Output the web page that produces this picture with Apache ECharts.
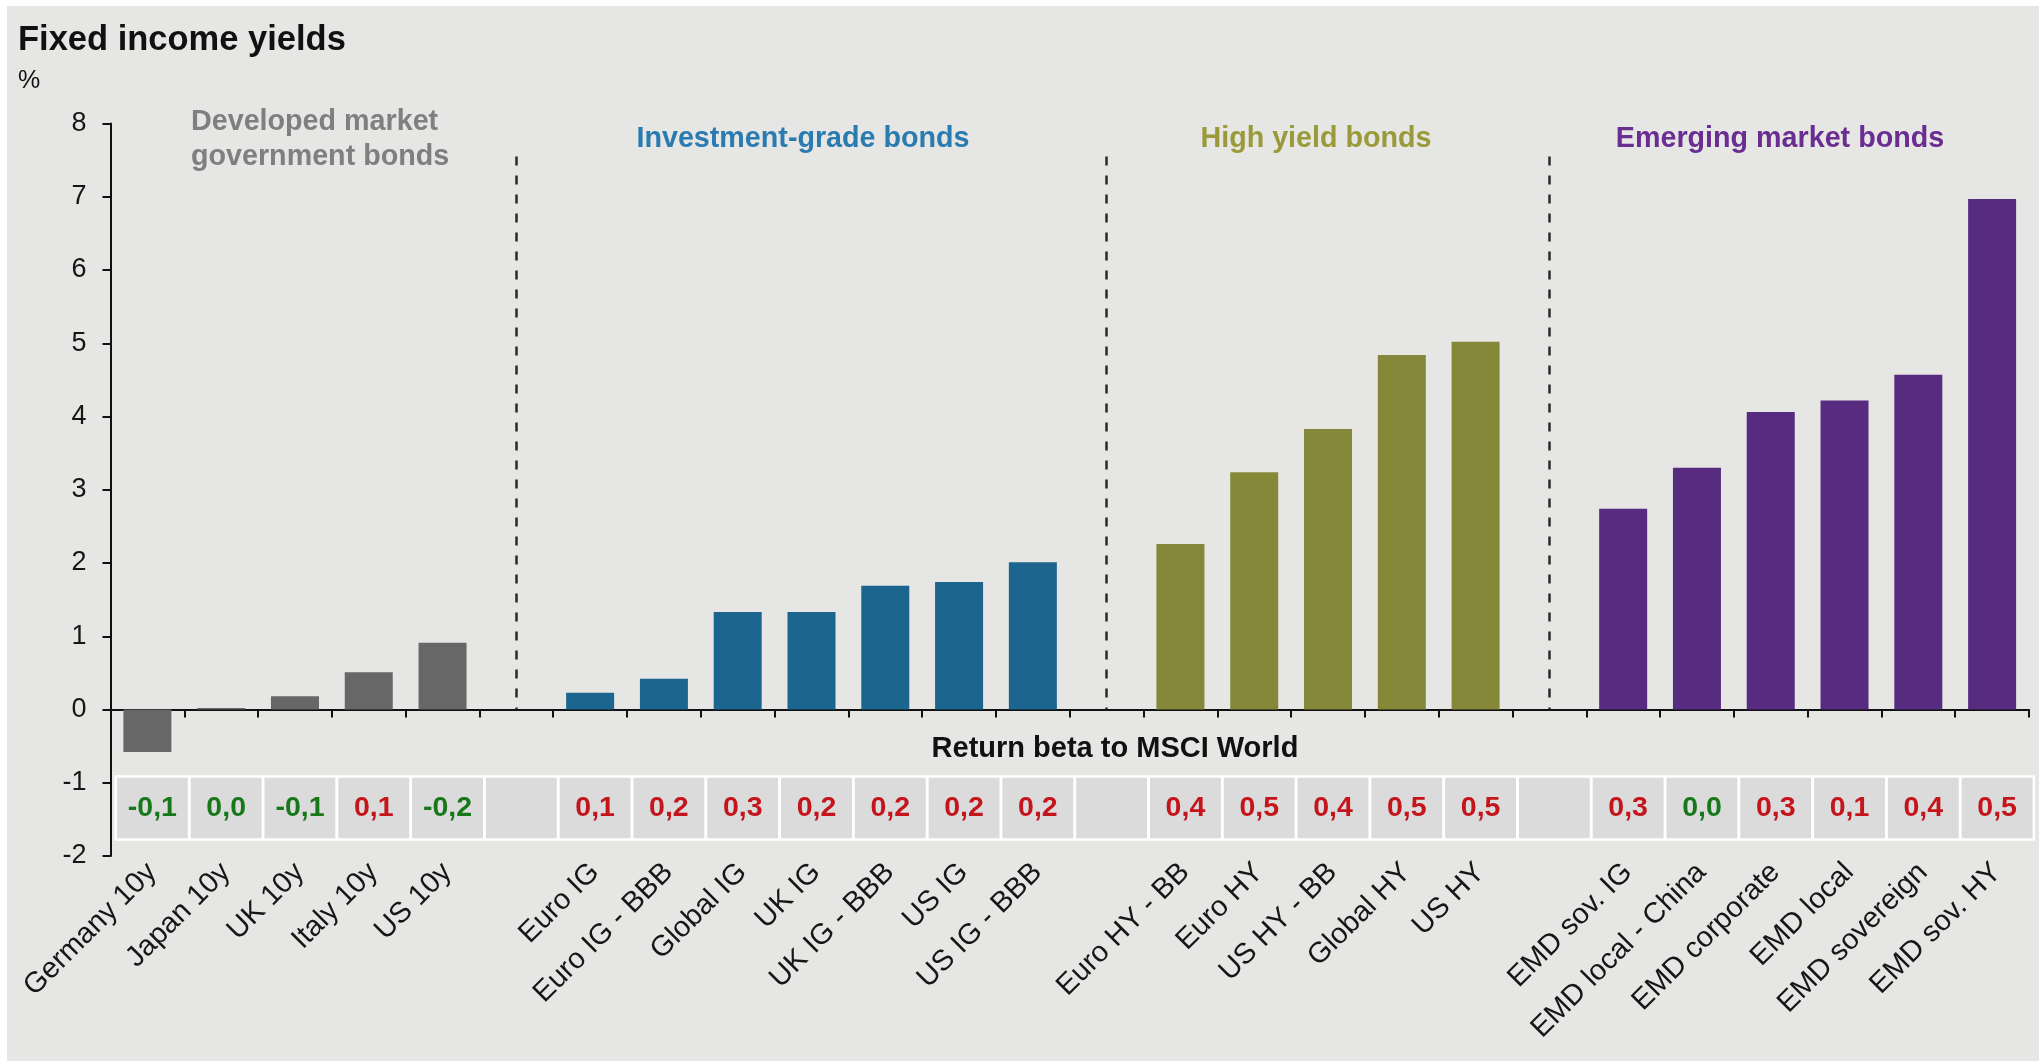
<!DOCTYPE html>
<html>
<head>
<meta charset="utf-8">
<script src="https://cdn.jsdelivr.net/npm/echarts@6/dist/echarts.min.js"></script>
<style>
  html, body { margin: 0; padding: 0; background: #ffffff; }
  #chart { width: 2039px; height: 1061px; }
</style>
</head>
<body>
<div id="chart"></div>
<script>
// Yields (%) and return beta to MSCI World, by bond segment
const dmNames  = ['Germany 10y', 'Japan 10y', 'UK 10y', 'Italy 10y', 'US 10y'];
const dmYields = [-0.58, 0.02, 0.18, 0.51, 0.91];
const dmBetas  = [-0.1, 0.0, -0.1, 0.1, -0.2];

const igNames  = ['Euro IG', 'Euro IG - BBB', 'Global IG', 'UK IG', 'UK IG - BBB', 'US IG', 'US IG - BBB'];
const igYields = [0.23, 0.42, 1.33, 1.33, 1.69, 1.74, 2.01];
const igBetas  = [0.1, 0.2, 0.3, 0.2, 0.2, 0.2, 0.2];

const hyNames  = ['Euro HY - BB', 'Euro HY', 'US HY - BB', 'Global HY', 'US HY'];
const hyYields = [2.26, 3.24, 3.83, 4.84, 5.02];
const hyBetas  = [0.4, 0.5, 0.4, 0.5, 0.5];

const emNames  = ['EMD sov. IG', 'EMD local - China', 'EMD corporate', 'EMD local', 'EMD sovereign', 'EMD sov. HY'];
const emYields = [2.74, 3.30, 4.06, 4.22, 4.57, 6.97];
const emBetas  = [0.3, 0.0, 0.3, 0.1, 0.4, 0.5];

const yMin = -2, yMax = 8, yStep = 1;

const FONT = '"Liberation Sans", Arial, sans-serif';

const segments = [
  { names: dmNames, yields: dmYields, betas: dmBetas, bar: '#676767' },
  { names: igNames, yields: igYields, betas: igBetas, bar: '#1b658e' },
  { names: hyNames, yields: hyYields, betas: hyBetas, bar: '#858838' },
  { names: emNames, yields: emYields, betas: emBetas, bar: '#572b7f' }
];

// Flatten the segments onto one category axis, with an empty slot between segments
const categories = [];
const barData = [];
const cellData = [];
const gapSlots = [];
segments.forEach((seg, s) => {
  if (s > 0) {
    gapSlots.push(categories.length);
    cellData.push([categories.length, 0, 0]);
    categories.push('');
    barData.push('-');
  }
  seg.names.forEach((n, k) => {
    cellData.push([categories.length, seg.betas[k], 1]);
    categories.push(n);
    barData.push({ value: seg.yields[k], itemStyle: { color: seg.bar } });
  });
});

// Beta strip sits between these two y values
const cellTop = -0.915, cellBottom = -1.775;
const fmtBeta = v => v.toFixed(1).replace('-0.0', '0.0').replace('.', ',');

const chart = echarts.init(document.getElementById('chart'), null, { renderer: 'canvas' });

chart.setOption({
  animation: false,
  backgroundColor: '#e6e6e4',
  textStyle: { fontFamily: FONT },
  grid: { left: 110.5, right: 10, top: 123.5, bottom: 205, containLabel: false, outerBoundsMode: 'none' },
  xAxis: {
    type: 'category',
    data: categories,
    axisLine: { onZero: true, lineStyle: { color: '#111111', width: 2 } },
    axisTick: { show: true, interval: 0, length: 8, lineStyle: { color: '#111111', width: 2 } },
    axisLabel: {
      interval: 0, rotate: 45, margin: -4, verticalAlign: 'top', padding: [0, 8, 0, 0],
      fontSize: 29, color: '#161616', fontFamily: FONT
    },
    splitLine: { show: false }
  },
  yAxis: {
    type: 'value',
    min: yMin, max: yMax, interval: yStep,
    axisLine: { show: true, lineStyle: { color: '#111111', width: 2 } },
    axisTick: { show: true, length: 8, lineStyle: { color: '#111111', width: 2 } },
    axisLabel: { fontSize: 27, color: '#161616', margin: 24, fontFamily: FONT },
    splitLine: { show: false }
  },
  series: [
    {
      type: 'bar',
      data: barData,
      barWidth: 48,
      z: 3,
      markLine: {
        silent: true,
        symbol: 'none',
        label: { show: false },
        lineStyle: { type: [9, 10], color: '#2a2a2a', width: 2.5 },
        data: gapSlots.map(i => [{ coord: [i, 7.55] }, { coord: [i, 0] }])
      }
    },
    {
      type: 'custom',
      data: cellData,
      z: 4,
      renderItem: function (params, api) {
        const i = api.value(0);
        const w = api.size([1, 0])[0] * 0.995;
        const cx = api.coord([i, 0])[0] + 5;
        const yT = api.coord([i, cellTop])[1];
        const yB = api.coord([i, cellBottom])[1];
        const children = [{
          type: 'rect',
          shape: { x: cx - w / 2, y: yT, width: w, height: yB - yT },
          style: { fill: '#dbdbdb', stroke: '#ffffff', lineWidth: 2.5 }
        }];
        if (api.value(2) === 1) {
          const b = api.value(1);
          children.push({
            type: 'text',
            style: {
              text: fmtBeta(b), x: cx, y: (yT + yB) / 2,
              align: 'center', verticalAlign: 'middle',
              fill: b > 0 ? '#c4141c' : '#17781a',
              fontSize: 28.5, fontWeight: 'bold', fontFamily: FONT
            }
          });
        }
        return { type: 'group', children: children };
      }
    }
  ],
  graphic: [
    { type: 'rect', silent: true, shape: { x: 0, y: 0, width: 2039, height: 6 }, style: { fill: '#ffffff' } },
    { type: 'rect', silent: true, shape: { x: 0, y: 0, width: 7, height: 1061 }, style: { fill: '#ffffff' } },
    { type: 'text', silent: true, style: { text: 'Fixed income yields', x: 18, y: 40, verticalAlign: 'middle',
        fontSize: 34.5, fontWeight: 'bold', fontFamily: FONT, fill: '#111111' } },
    { type: 'text', silent: true, style: { text: '%', x: 18, y: 81, verticalAlign: 'middle',
        fontSize: 25, fontFamily: FONT, fill: '#111111' } },
    { type: 'text', silent: true, style: { text: 'Developed market\ngovernment bonds', x: 191, y: 105,
        verticalAlign: 'top', lineHeight: 35, fontSize: 28.7, fontWeight: 'bold', fontFamily: FONT, fill: '#7f7f7f' } },
    { type: 'text', silent: true, style: { text: 'Investment-grade bonds', x: 803, y: 139, align: 'center',
        verticalAlign: 'middle', fontSize: 28.7, fontWeight: 'bold', fontFamily: FONT, fill: '#2a7bb0' } },
    { type: 'text', silent: true, style: { text: 'High yield bonds', x: 1316, y: 139, align: 'center',
        verticalAlign: 'middle', fontSize: 28.7, fontWeight: 'bold', fontFamily: FONT, fill: '#9a9a3a' } },
    { type: 'text', silent: true, style: { text: 'Emerging market bonds', x: 1780, y: 139, align: 'center',
        verticalAlign: 'middle', fontSize: 28.7, fontWeight: 'bold', fontFamily: FONT, fill: '#6a2d92' } },
    { type: 'text', silent: true, style: { text: 'Return beta to MSCI World', x: 1115, y: 749, align: 'center',
        verticalAlign: 'middle', fontSize: 29, fontWeight: 'bold', fontFamily: FONT, fill: '#111111' } }
  ]
});
</script>
</body>
</html>
